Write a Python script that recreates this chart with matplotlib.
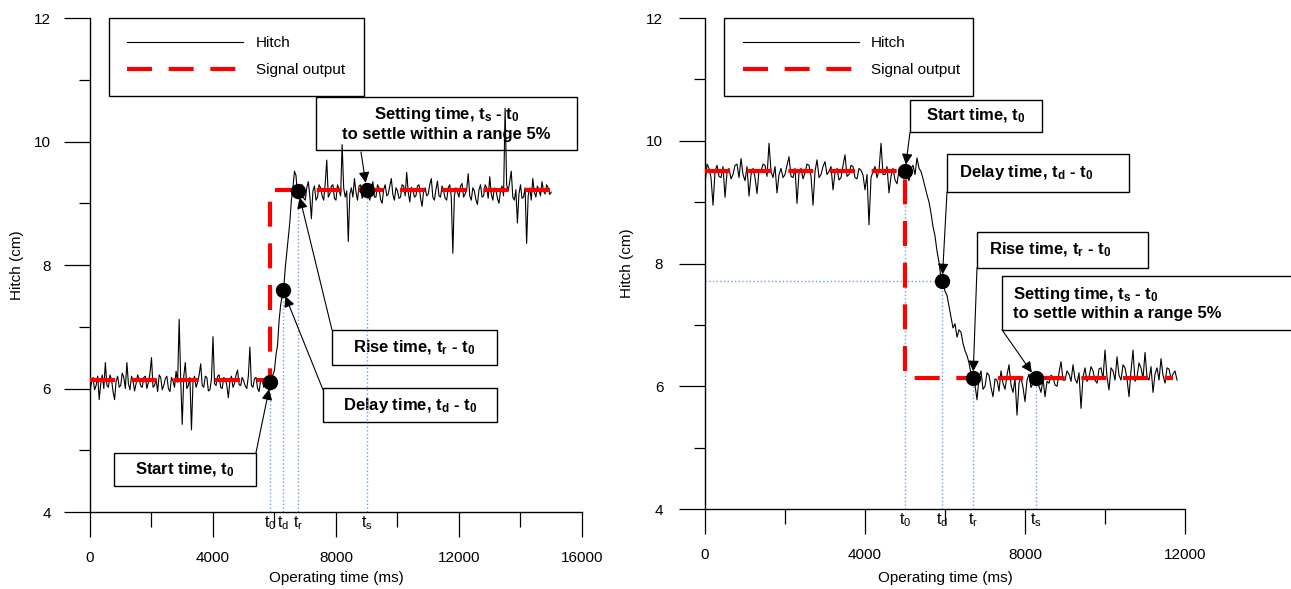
import matplotlib.pyplot as plt
import numpy as np
from matplotlib.patches import Rectangle

plt.rcParams['font.family'] = ['Liberation Sans', 'DejaVu Sans']
plt.rcParams['mathtext.fontset'] = 'custom'
plt.rcParams['mathtext.rm'] = 'Liberation Sans'
plt.rcParams['mathtext.it'] = 'Liberation Sans:italic'
plt.rcParams['mathtext.bf'] = 'Liberation Sans:bold'

# hitch readings, one every 50 ms
step_ms = 50
hitch_up = [
    5.95, 6.10, 6.18, 5.98, 6.05, 6.20, 5.82, 6.08, 6.22, 6.00,
    6.42, 6.05, 6.02, 6.22, 6.15, 5.95, 5.82, 6.12, 6.20, 6.02,
    6.05, 6.25, 6.18, 6.00, 6.42, 6.08, 5.98, 6.20, 6.12, 5.96,
    6.08, 6.22, 6.15, 6.04, 6.02, 6.18, 6.20, 6.00, 6.10, 6.24,
    6.50, 6.02, 6.05, 6.15, 5.95, 6.22, 6.18, 5.98, 6.05, 6.16,
    6.20, 6.00, 5.95, 6.18, 6.12, 6.02, 6.28, 6.10, 7.12, 6.15,
    5.42, 6.20, 6.42, 6.00, 6.05, 6.18, 5.33, 6.10, 6.20, 6.02,
    6.10, 6.22, 6.40, 6.05, 6.02, 6.20, 6.18, 5.96, 5.98, 6.15,
    6.84, 6.08, 6.05, 6.20, 6.22, 6.02, 6.00, 6.18, 6.15, 6.05,
    5.85, 6.12, 6.20, 6.02, 6.08, 6.22, 6.30, 6.06, 6.05, 6.18,
    6.12, 6.04, 6.00, 6.20, 6.67, 6.05, 6.02, 6.16, 6.18, 6.00,
    5.95, 6.14, 6.15, 6.02, 6.05, 6.20, 6.10, 6.08, 6.15, 6.22,
    6.30, 6.55, 6.70, 7.10, 7.35, 7.50, 7.62, 7.95, 8.20, 8.45,
    8.70, 9.05, 9.25, 9.52, 9.45, 9.10, 9.15, 9.28, 9.30, 9.08,
    9.05, 9.25, 9.35, 9.12, 8.75, 9.20, 9.28, 9.05, 9.10, 9.30,
    9.25, 9.12, 9.05, 9.32, 9.70, 9.10, 9.15, 9.28, 9.30, 9.08,
    9.05, 9.30, 9.22, 9.12, 9.95, 9.25, 9.10, 9.20, 8.38, 9.15,
    9.25, 9.10, 9.40, 9.18, 9.05, 9.28, 9.30, 9.08, 9.15, 9.32,
    9.22, 9.12, 9.05, 9.25, 9.35, 9.10, 9.10, 9.30, 9.25, 9.06,
    9.00, 9.22, 9.30, 9.12, 9.15, 9.28, 9.40, 9.14, 9.05, 9.25,
    9.20, 9.08, 9.10, 9.30, 9.28, 9.12, 9.50, 9.18, 9.02, 9.26,
    9.22, 9.10, 9.12, 9.28, 9.30, 9.08, 8.95, 9.20, 9.25, 9.12,
    9.15, 9.30, 9.40, 9.10, 9.05, 9.22, 9.36, 9.12, 9.10, 9.28,
    9.20, 9.08, 9.05, 9.25, 9.30, 9.10, 8.19, 9.12, 9.25, 9.18,
    9.10, 9.28, 9.32, 9.10, 9.15, 9.22, 9.48, 9.12, 9.05, 9.25,
    9.20, 9.06, 8.98, 9.22, 9.30, 9.10, 9.12, 9.30, 9.25, 9.08,
    9.43, 9.15, 9.05, 9.25, 9.22, 9.08, 9.00, 9.20, 9.28, 9.12,
    10.54, 9.30, 9.20, 9.35, 9.52, 9.10, 9.05, 9.22, 8.68, 9.15,
    9.30, 9.08, 9.10, 9.25, 8.35, 9.12, 9.25, 9.05, 9.40, 9.18,
    9.10, 9.28, 9.22, 9.12, 9.35, 9.20, 9.15, 9.30, 9.25, 9.14, 9.18,
]
hitch_down = [
    9.30, 9.62, 9.55, 9.40, 8.95, 9.50, 9.60, 9.42, 9.40, 9.58,
    9.08, 9.48, 9.55, 9.38, 9.45, 9.60, 9.62, 9.40, 9.71, 9.45,
    9.35, 9.58, 9.10, 9.45, 9.55, 9.40, 9.14, 9.52, 9.50, 9.62,
    9.60, 9.42, 9.96, 9.50, 9.40, 9.58, 9.15, 9.45, 9.55, 9.40,
    9.45, 9.60, 9.74, 9.42, 9.40, 9.55, 8.98, 9.48, 9.55, 9.38,
    9.48, 9.62, 9.60, 9.42, 8.95, 9.50, 9.69, 9.40, 9.45, 9.58,
    9.66, 9.45, 9.50, 9.58, 9.20, 9.48, 9.55, 9.36, 9.40, 9.60,
    9.77, 9.42, 9.45, 9.60, 9.58, 9.40, 9.38, 9.55, 9.52, 9.44,
    9.20, 9.45, 8.63, 9.40, 9.50, 9.58, 9.40, 9.52, 9.96, 9.45,
    9.45, 9.58, 9.15, 9.42, 9.55, 9.36, 9.30, 9.52, 9.48, 9.40,
    9.50, 9.42, 9.35, 9.55, 9.60, 9.45, 9.72, 9.55, 9.50, 9.38,
    9.25, 9.12, 9.00, 8.82, 8.60, 8.45, 8.20, 8.02, 7.75, 7.68,
    7.55, 7.48, 7.30, 7.12, 6.95, 7.02, 6.80, 6.92, 6.88, 6.70,
    6.58, 6.50, 6.38, 6.20, 6.12, 6.02, 5.78, 6.15, 6.25, 5.95,
    6.00, 6.22, 6.18, 5.98, 5.83, 6.12, 6.10, 5.92, 6.25, 6.05,
    5.95, 6.18, 6.35, 6.02, 5.90, 6.12, 5.53, 6.05, 6.15, 5.98,
    5.75, 6.10, 6.20, 5.98, 6.05, 6.18, 6.13, 6.00, 5.90, 6.12,
    5.83, 6.08, 6.05, 6.18, 6.15, 6.02, 6.00, 6.22, 6.40, 6.10,
    6.10, 6.25, 6.20, 6.08, 6.35, 6.12, 6.05, 6.22, 5.64, 6.15,
    6.30, 6.08, 6.15, 6.32, 6.25, 6.10, 6.05, 6.28, 6.30, 6.12,
    6.59, 6.15, 5.94, 6.30, 6.25, 6.10, 6.48, 6.18, 6.10, 6.35,
    6.30, 6.12, 5.83, 6.25, 6.59, 6.08, 6.15, 6.38, 6.30, 6.12,
    6.55, 6.15, 6.10, 6.32, 5.90, 6.20, 6.30, 6.10, 6.45, 6.18,
    6.05, 6.30, 6.28, 6.12, 6.20, 6.25, 6.10,
]

signal_up_t = [0, 5850, 5850, 15000]
signal_up_y = [6.13, 6.13, 9.22, 9.22]
signal_down_t = [0, 5000, 5000, 11700]
signal_down_y = [9.5, 9.5, 6.13, 6.13]

event_keys = ['0', 'd', 'r', 's']
events_up_t = [5870, 6270, 6770, 9000]
events_up_y = [6.10, 7.60, 9.20, 9.22]
events_down_t = [5000, 5930, 6700, 8270]
events_down_y = [9.50, 7.71, 6.13, 6.13]

txt_start = r'Start time, t$_\mathbf{0}$'
txt_delay = r'Delay time, t$_\mathbf{d}$ - t$_\mathbf{0}$'
txt_rise = r'Rise time, t$_\mathbf{r}$ - t$_\mathbf{0}$'
txt_settle = 'Setting time, t$_\\mathbf{s}$ - t$_\\mathbf{0}$\nto settle within a range 5%'

# (text, box x0, x1, y0, y1, text x, text y, ha, arrow from x, y)
notes_up = [
    (txt_start, 780, 5398, 4.42, 4.96, 3089, 4.69, 'center', 5398, 4.96),
    (txt_delay, 7577, 13236, 5.46, 6.01, 10407, 5.73, 'center', 7577, 5.98),
    (txt_rise, 7870, 13236, 6.38, 6.95, 10553, 6.66, 'center', 7870, 6.95),
    (txt_settle, 7350, 15837, 9.86, 10.72, 11593, 10.29, 'center', 8813, 9.83),
]
notes_down = [
    (txt_start, 5125, 8425, 10.14, 10.66, 6775, 10.40, 'center', 5125, 10.14),
    (txt_delay, 6050, 10600, 9.17, 9.79, 6350, 9.475, 'left', 6050, 9.17),
    (txt_rise, 6800, 11075, 7.93, 8.52, 7088, 8.22, 'left', 6800, 7.93),
    (txt_settle, 7425, 14875, 6.92, 7.80, 7700, 7.36, 'left', 7425, 6.92),
]

guide_color = '#6f9fdc'

fig = plt.figure(figsize=(12.91, 5.89), dpi=100)
ax1 = fig.add_axes([0.0697, 0.1307, 0.3811, 0.8387])
ax2 = fig.add_axes([0.5461, 0.1358, 0.3718, 0.8336])


def setup_axes(ax, xmax, ypad):
    ax.set_xlim(0, xmax)
    ax.set_ylim(4, 12)
    for s in ['top', 'right']:
        ax.spines[s].set_visible(False)
    for s in ['left', 'bottom']:
        ax.spines[s].set_linewidth(1.0)
    ax.set_xticks(np.arange(0, xmax + 1, 4000))
    ax.set_xticks(np.arange(2000, xmax, 4000), minor=True)
    ax.set_yticks([4, 6, 8, 10, 12])
    ax.set_yticks([5, 7, 9, 11], minor=True)
    ax.tick_params(which='both', direction='out', width=0.9, labelsize=11, pad=10)
    ax.tick_params(axis='y', which='major', length=19, pad=ypad)
    ax.tick_params(axis='x', which='major', length=18)
    ax.tick_params(axis='y', which='minor', length=8)
    ax.tick_params(axis='x', which='minor', length=11)
    ax.set_xlabel('Operating time (ms)', fontsize=11)
    ax.set_ylabel('Hitch (cm)', fontsize=11)


def draw_panel(ax, hitch, sig_t, sig_y, ev_t, ev_y, notes, legend_x0, hline=False):
    t = np.arange(len(hitch)) * step_ms
    ax.plot(t, hitch, color='black', lw=0.8, zorder=2, label='Hitch')
    ax.plot(sig_t, sig_y, color='red', lw=3, linestyle=(0, (6, 4)), zorder=3,
            label='Signal output')

    ax.vlines(ev_t, 4, ev_y, colors=guide_color, linestyles=':', lw=1.0, zorder=1.5)
    if hline:
        ax.hlines(ev_y[1], 0, ev_t[1], colors=guide_color, linestyles=':', lw=1.0, zorder=1.5)
    ax.plot(ev_t, ev_y, 'o', color='black', ms=10, zorder=5)

    for key, et in zip(event_keys, ev_t):
        ax.annotate(r't$_\mathrm{%s}$' % key, xy=(et, 4), xytext=(0, -2),
                    textcoords='offset points', ha='center', va='top', fontsize=11.5,
                    annotation_clip=False)

    for (txt, bx0, bx1, by0, by1, tx, ty, ha, ax_, ay_), et, ey in zip(notes, ev_t, ev_y):
        ax.add_patch(Rectangle((bx0, by0), bx1 - bx0, by1 - by0, facecolor='white',
                               edgecolor='black', lw=1.0, clip_on=False, zorder=1))
        ax.text(tx, ty, txt, ha=ha, va='center', multialignment=ha, fontsize=12,
                fontweight='bold', zorder=1.2, clip_on=False)
        ax.annotate('', xy=(et, ey), xytext=(ax_, ay_),
                    arrowprops=dict(arrowstyle='-|>', color='black', lw=0.8,
                                    shrinkA=0, shrinkB=5, mutation_scale=16),
                    zorder=4, annotation_clip=False)

    leg = ax.legend(loc='upper left', bbox_to_anchor=(legend_x0, 0, 0.518, 1.0),
                    mode='expand', borderaxespad=0, fontsize=11, frameon=True,
                    fancybox=False, edgecolor='black', framealpha=1,
                    handlelength=7.6, handletextpad=0.8, borderpad=1.2,
                    labelspacing=0.85)
    leg.get_frame().set_linewidth(1.0)
    leg.set_zorder(6)


setup_axes(ax1, 16000, 9)
setup_axes(ax2, 12000, 11)
draw_panel(ax1, hitch_up, signal_up_t, signal_up_y, events_up_t, events_up_y,
           notes_up, 0.0386)
draw_panel(ax2, hitch_down, signal_down_t, signal_down_y, events_down_t, events_down_y,
           notes_down, 0.04, hline=True)

ax1.yaxis.set_label_coords(-0.134, 0.5)
ax2.yaxis.set_label_coords(-0.148, 0.5)
ax1.xaxis.set_label_coords(0.5, -0.119)
ax2.xaxis.set_label_coords(0.5, -0.126)

fig.savefig('out.png', dpi=100)
